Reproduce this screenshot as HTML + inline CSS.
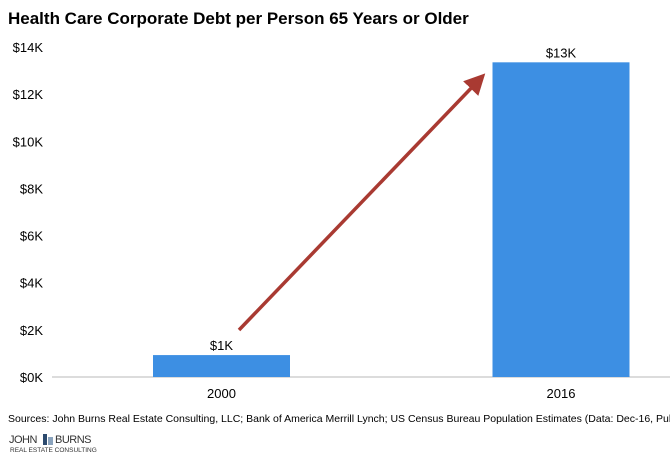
<!DOCTYPE html>
<html><head><meta charset="utf-8"><style>
body{margin:0;background:#fff;font-family:"Liberation Sans",Arial,sans-serif}
svg{display:block}
</style></head><body>
<svg width="670" height="460" viewBox="0 0 670 460">
<text x="8" y="24" font-size="17" font-weight="bold" fill="#000">Health Care Corporate Debt per Person 65 Years or Older</text>
<g id="yaxis"></g>
<line x1="52" y1="377" x2="670" y2="377" stroke="#d0d0d0" stroke-width="1.5"/>
<g id="bars"></g>
<defs><marker id="ah" markerWidth="6" markerHeight="6" refX="3" refY="3" orient="auto"><path d="M0,0 L6,3 L0,6 Z" fill="#a93a32"/></marker></defs>
<line x1="239" y1="330" x2="478" y2="81" stroke="#a93a32" stroke-width="3.5" marker-end="url(#ah)"/>
<text x="8" y="422" font-size="10.5" fill="#000">Sources: John Burns Real Estate Consulting, LLC; Bank of America Merrill Lynch; US Census Bureau Population Estimates (Data: Dec-16, Pub: Feb-17)</text>
<g>
<text x="9" y="443" font-size="11" fill="#333" letter-spacing="-0.5">JOHN</text>
<rect x="43" y="434" width="4" height="11" fill="#2c4a6e"/><rect x="48" y="437" width="5" height="8" fill="#8aa3bd"/>
<text x="55" y="443" font-size="11" fill="#333" letter-spacing="-0.5">BURNS</text>
<text x="10" y="452" font-size="6.5" fill="#333">REAL ESTATE CONSULTING</text>
</g>
</svg>
<script>
const categories=["2000","2016"];
const values=[0.93,13.35];
const valueLabels=["$1K","$13K"];
const yTicks=[0,2,4,6,8,10,12,14];
const yTickLabels=["$0K","$2K","$4K","$6K","$8K","$10K","$12K","$14K"];
const NS="http://www.w3.org/2000/svg";
const y0=377,yTop=47,yMax=14;
function y(v){return y0-(v/yMax)*(y0-yTop);}
const centers=[221.5,561];const bw=137;
function x(i){return centers[i];}
const ya=document.getElementById('yaxis');
yTicks.forEach((t,i)=>{const e=document.createElementNS(NS,'text');
e.setAttribute('x',43);e.setAttribute('y',y(t)+5);e.setAttribute('text-anchor','end');e.setAttribute('font-size','13');
e.textContent=yTickLabels[i];


ya.appendChild(e);});
const g=document.getElementById('bars');
categories.forEach((c,i)=>{
const r=document.createElementNS(NS,'rect');
r.setAttribute('x',x(i)-bw/2);r.setAttribute('y',y(values[i]));r.setAttribute('width',bw);r.setAttribute('height',y0-y(values[i]));r.setAttribute('fill','#3d8fe3');


g.appendChild(r);
const l=document.createElementNS(NS,'text');
l.setAttribute('x',x(i));l.setAttribute('y',y(values[i])-5);l.setAttribute('text-anchor','middle');l.setAttribute('font-size','13');
l.textContent=valueLabels[i];


g.appendChild(l);
const t=document.createElementNS(NS,'text');
t.setAttribute('x',x(i));t.setAttribute('y',398);t.setAttribute('text-anchor','middle');t.setAttribute('font-size','13');
t.textContent=c;


g.appendChild(t);
});
</script>
</body></html>
